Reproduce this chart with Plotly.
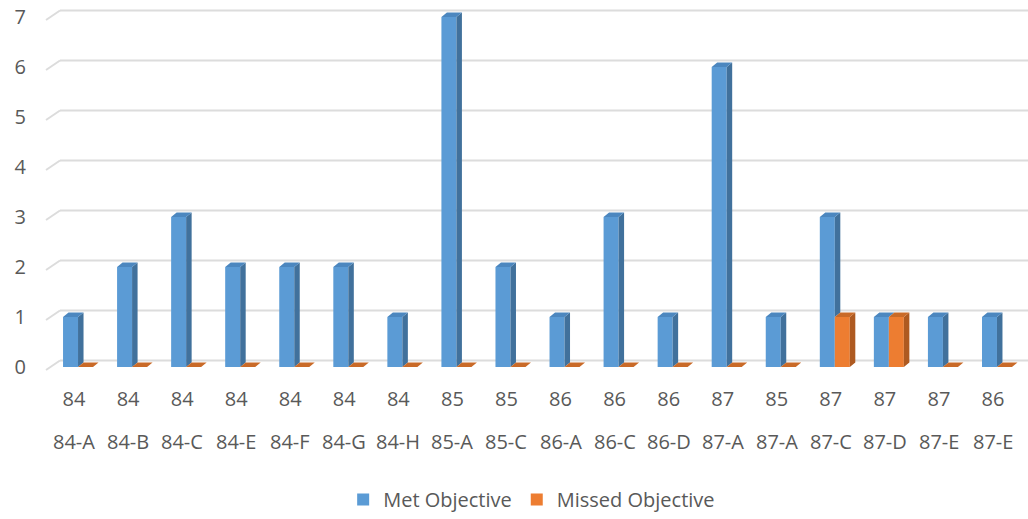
import plotly.graph_objects as go

# ---------------- data ----------------
group_labels = ["84", "84", "84", "84", "84", "84", "84", "85", "85", "86",
                "86", "86", "87", "85", "87", "87", "87", "86"]
sub_labels = ["84-A", "84-B", "84-C", "84-E", "84-F", "84-G", "84-H", "85-A", "85-C", "86-A",
              "86-C", "86-D", "87-A", "87-A", "87-C", "87-D", "87-E", "87-E"]
met_objective = [1, 2, 3, 2, 2, 2, 1, 7, 2, 1, 3, 1, 6, 1, 3, 1, 1, 1]
missed_objective = [0, 0, 0, 0, 0, 0, 0, 0, 0, 0, 0, 0, 0, 0, 1, 1, 0, 0]
y_ticks = [0, 1, 2, 3, 4, 5, 6, 7]

# ---------------- style / layout constants ----------------
W, H = 1028, 519
ML, MR, MT, MB = 51, 4, 0, 147
YMIN, YMAX = -0.1, 7.34
BARGAP = 0.445
DEPTH_PX_X, DEPTH_PX_Y = 5.5, 4.5
FONT = "Open Sans"
FS = 20
TXT = "#595959"
BLUE, BLUE_SIDE, BLUE_TOP = "#5B9BD5", "#41719C", "#4C87BF"
ORANGE, ORANGE_SIDE, ORANGE_TOP = "#ED7D31", "#AE5A21", "#C96A28"

n = len(sub_labels)
xs = list(range(n))
plot_w = W - ML - MR
plot_h = H - MT - MB
px_per_x = plot_w / n
px_per_y = plot_h / (YMAX - YMIN)
dx = DEPTH_PX_X / px_per_x
dy = DEPTH_PX_Y / px_per_y
w = (1 - BARGAP) / 2


def faces(lefts, vals, lows):
    sx, sy, tx, ty = [], [], [], []
    for x0, v, lo in zip(lefts, vals, lows):
        x1 = x0 + w
        lo = min(lo, v)
        # side face
        sx += [x1, x1 + dx, x1 + dx, x1, x1, None]
        sy += [lo, lo + dy, v + dy, v, lo, None]
        # top face
        tx += [x0, x1, x1 + dx, x0 + dx, x0, None]
        ty += [v, v, v + dy, v + dy, v, None]
    return sx, sy, tx, ty


fig = go.Figure()
fig.add_trace(go.Bar(x=xs, y=met_objective, name="Met Objective",
                     marker=dict(color=BLUE, line=dict(width=0))))
fig.add_trace(go.Bar(x=xs, y=missed_objective, name="Missed Objective",
                     marker=dict(color=ORANGE, line=dict(width=0))))

blue_left = [x - w for x in xs]
orange_left = [x for x in xs]
bsx, bsy, btx, bty = faces(blue_left, met_objective, missed_objective)
osx, osy, otx, oty = faces(orange_left, missed_objective, [0] * n)

for px_, py_, col in [(bsx, bsy, BLUE_SIDE), (btx, bty, BLUE_TOP),
                      (osx, osy, ORANGE_SIDE), (otx, oty, ORANGE_TOP)]:
    fig.add_trace(go.Scatter(x=px_, y=py_, mode="lines", fill="toself", fillcolor=col,
                             line=dict(width=0, color=col), showlegend=False,
                             hoverinfo="skip"))

# gridlines on the back wall with a diagonal floor stub on the left
shapes = []
for v in y_ticks:
    yp = (v - YMIN) / (YMAX - YMIN)
    shapes.append(dict(type="line", xref="paper", yref="paper",
                       xsizemode="pixel", ysizemode="pixel", xanchor=0, yanchor=yp,
                       x0=9, x1=plot_w + 20, y0=6.5, y1=6.5,
                       line=dict(color="#DCDCDC", width=2), layer="below"))
    shapes.append(dict(type="line", xref="paper", yref="paper",
                       xsizemode="pixel", ysizemode="pixel", xanchor=0, yanchor=yp,
                       x0=-5, x1=9, y0=-3, y1=6.5,
                       line=dict(color="#DCDCDC", width=2), layer="below"))

annotations = []
for x, s in zip(xs, sub_labels):
    annotations.append(dict(x=x, y=0, xref="x", yref="paper", text=s, showarrow=False,
                            xanchor="center", yanchor="middle", yshift=-69, xshift=-4,
                            font=dict(family=FONT, size=FS, color=TXT)))

fig.update_layout(
    width=W, height=H,
    margin=dict(l=ML, r=MR, t=MT, b=MB),
    paper_bgcolor="white", plot_bgcolor="white",
    barmode="group", bargap=BARGAP, bargroupgap=0,
    shapes=shapes, annotations=annotations,
    font=dict(family=FONT, size=FS, color=TXT),
    legend=dict(orientation="h", x=0.494, xanchor="center", y=-0.344, yanchor="middle",
                font=dict(family=FONT, size=FS, color=TXT), itemwidth=30,
                traceorder="normal"),
    showlegend=True,
)
fig.update_xaxes(range=[-0.5, n - 0.5], tickmode="array", tickvals=xs, ticktext=group_labels,
                 showgrid=False, zeroline=False, showline=False, ticks="",
                 ticklabelstandoff=13, ticklabelshift=-4,
                 tickfont=dict(family=FONT, size=FS, color=TXT))
fig.update_yaxes(range=[YMIN, YMAX], tickmode="array", tickvals=y_ticks,
                 showgrid=False, zeroline=False, showline=False, ticks="",
                 ticklabelstandoff=24,
                 tickfont=dict(family=FONT, size=FS, color=TXT))

fig.write_html("out.html", config={"displayModeBar": False},
               post_script="document.body.style.margin='0';")
